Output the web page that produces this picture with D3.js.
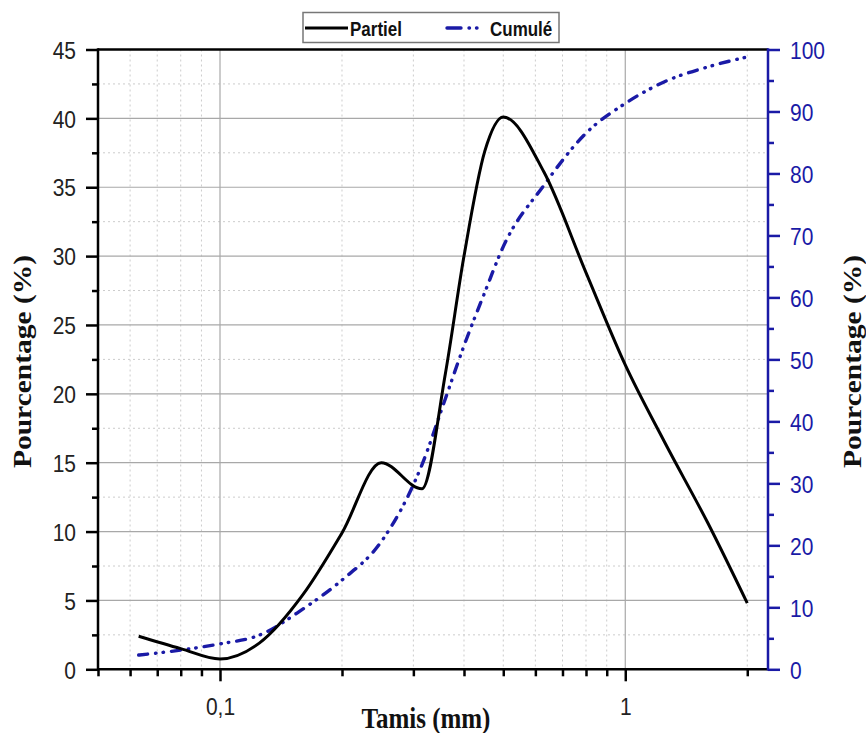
<!DOCTYPE html>
<html>
<head>
<meta charset="utf-8">
<script src="https://cdn.jsdelivr.net/npm/d3@7"></script>
<style>
  body { margin: 0; background: #fff; }
  svg { display: block; }
</style>
</head>
<body>
<svg id="chart"></svg>
<script>
// sieve sizes (mm), plus two points read on the steep rise, and the two series
const tamis = [0.063, 0.08, 0.1, 0.125, 0.16, 0.2, 0.25, 0.315, 0.36, 0.4, 0.45, 0.5, 0.63, 0.8, 1, 1.25, 1.6, 2];
const partiel = [2.4, 1.5, 0.75, 1.9, 5.4, 9.9, 15.0, 13.1, 21.5, 30.0, 37.6, 40.1, 36.1, 28.8, 22.1, 16.5, 10.6, 4.8];
const cumule = [2.3, 3.1, 4.1, 5.5, 9.7, 14.4, 20.6, 33.0, 43.7, 52.2, 60.8, 68.2, 78.1, 86.5, 91.3, 94.8, 97.2, 98.8];

const leftTicks = [0, 5, 10, 15, 20, 25, 30, 35, 40, 45];
const leftMinor = [2.5, 7.5, 12.5, 17.5, 22.5, 27.5, 32.5, 37.5, 42.5];
const rightTicks = [0, 10, 20, 30, 40, 50, 60, 70, 80, 90, 100];
const rightMinor = [5, 15, 25, 35, 45, 55, 65, 75, 85, 95];
const xMajor = [0.1, 1];
const xLabels = ["0,1", "1"];
const xMinor = [0.05, 0.06, 0.07, 0.08, 0.09, 0.2, 0.3, 0.4, 0.5, 0.6, 0.7, 0.8, 0.9, 2];

const width = 866;
const height = 733;
const plotLeft = 98, plotRight = 768, plotTop = 49.5, plotBottom = 669.3;
const blue = "#1a1aa6";
const sy = 1.15; // the reference text is a bit taller than wide

const svg = d3.select("#chart").attr("width", width).attr("height", height);

const xScale = d3.scaleLog().domain([0.05, 2.25]).range([plotLeft, plotRight]);
const yLeft = d3.scaleLinear().domain([0, 45]).range([plotBottom, plotTop]);
const yRight = d3.scaleLinear().domain([0, 100]).range([plotBottom, plotTop]);

// grid
const grid = svg.append("g");
grid.selectAll(".gx-minor")
  .data(xMinor.filter((d) => d > 0.05))
  .enter().append("line")
  .attr("x1", (d) => xScale(d)).attr("x2", (d) => xScale(d))
  .attr("y1", plotTop).attr("y2", plotBottom)
  .attr("stroke", "#cccccc").attr("stroke-dasharray", "2,3");
grid.selectAll(".gy-minor")
  .data(leftMinor)
  .enter().append("line")
  .attr("x1", plotLeft).attr("x2", plotRight)
  .attr("y1", (d) => yLeft(d)).attr("y2", (d) => yLeft(d))
  .attr("stroke", "#cccccc").attr("stroke-dasharray", "2,3");
grid.selectAll(".gx-major")
  .data(xMajor)
  .enter().append("line")
  .attr("x1", (d) => xScale(d)).attr("x2", (d) => xScale(d))
  .attr("y1", plotTop).attr("y2", plotBottom)
  .attr("stroke", "#a8a8a8").attr("stroke-width", 1.2);
grid.selectAll(".gy-major")
  .data(leftTicks.slice(1, -1))
  .enter().append("line")
  .attr("x1", plotLeft).attr("x2", plotRight)
  .attr("y1", (d) => yLeft(d)).attr("y2", (d) => yLeft(d))
  .attr("stroke", "#a8a8a8").attr("stroke-width", 1.2);

// curves
const linePartiel = d3.line()
  .x((d, i) => xScale(tamis[i]))
  .y((d) => yLeft(d))
  .curve(d3.curveMonotoneX);
const lineCumule = d3.line()
  .x((d, i) => xScale(tamis[i]))
  .y((d) => yRight(d))
  .curve(d3.curveMonotoneX);

svg.append("path")
  .attr("d", lineCumule(cumule))
  .attr("fill", "none")
  .attr("stroke", blue)
  .attr("stroke-width", 3.4)
  .attr("stroke-linecap", "round")
  .attr("stroke-dasharray", "9,8,0.5,7,0.5,8");

svg.append("path")
  .attr("d", linePartiel(partiel))
  .attr("fill", "none")
  .attr("stroke", "#000")
  .attr("stroke-width", 3);

// axes
const fontTick = "'Liberation Sans', Arial, sans-serif";

const gLeft = svg.append("g").attr("transform", `translate(${plotLeft},0)`);
gLeft.call(d3.axisLeft(yLeft).tickValues(leftTicks).tickSize(12).tickSizeOuter(0).tickFormat(d3.format("d")));
gLeft.append("g").call(d3.axisLeft(yLeft).tickValues(leftMinor).tickSize(6).tickSizeOuter(0).tickFormat(""));
gLeft.selectAll("text")
  .attr("x", null)
  .attr("dy", "0.36em")
  .attr("transform", `translate(-22,0) scale(1,${sy})`)
  .attr("fill", "#222");

const gBottom = svg.append("g").attr("transform", `translate(0,${plotBottom})`);
gBottom.call(d3.axisBottom(xScale).tickValues(xMajor).tickSize(12).tickSizeOuter(0).tickFormat((d, i) => xLabels[i]));
gBottom.append("g").call(d3.axisBottom(xScale).tickValues(xMinor).tickSize(7).tickSizeOuter(0).tickFormat(""));
gBottom.selectAll("text")
  .attr("y", null)
  .attr("dy", null)
  .attr("transform", `translate(0,46) scale(1,${sy})`)
  .attr("fill", "#222");

const gRight = svg.append("g").attr("transform", `translate(${plotRight},0)`);
gRight.call(d3.axisRight(yRight).tickValues(rightTicks).tickSize(12).tickSizeOuter(0).tickFormat(d3.format("d")));
gRight.append("g").call(d3.axisRight(yRight).tickValues(rightMinor).tickSize(6).tickSizeOuter(0).tickFormat(""));
gRight.selectAll("text")
  .attr("x", null)
  .attr("dy", "0.36em")
  .attr("transform", `translate(22,0) scale(1,${sy})`)
  .attr("fill", blue);

[gLeft, gBottom, gRight].forEach((g) => {
  g.attr("font-size", 21).attr("font-family", fontTick);
  g.selectAll(".domain").remove();
  g.selectAll(".tick line").attr("stroke-width", 2.5);
});
gRight.selectAll(".tick line").attr("stroke", blue);

// frame
svg.append("line").attr("x1", plotLeft).attr("x2", plotRight).attr("y1", plotTop).attr("y2", plotTop)
  .attr("stroke", "#000").attr("stroke-width", 2.5);
svg.append("line").attr("x1", plotLeft).attr("x2", plotRight).attr("y1", plotBottom).attr("y2", plotBottom)
  .attr("stroke", "#000").attr("stroke-width", 2.5);
svg.append("line").attr("x1", plotLeft).attr("x2", plotLeft).attr("y1", plotTop - 1.2).attr("y2", plotBottom + 1.2)
  .attr("stroke", "#000").attr("stroke-width", 2.5);
svg.append("line").attr("x1", plotRight).attr("x2", plotRight).attr("y1", plotTop - 1.2).attr("y2", plotBottom + 1.2)
  .attr("stroke", blue).attr("stroke-width", 2.5);

// axis titles
const fontTitle = "'Liberation Serif', 'Times New Roman', serif";
svg.append("text")
  .attr("transform", `translate(30.5,361.5) rotate(-90) scale(${sy + 0.03},1)`)
  .attr("text-anchor", "middle")
  .attr("font-family", fontTitle).attr("font-weight", "bold").attr("font-size", 25)
  .attr("fill", "#111")
  .text("Pourcentage (%)");
svg.append("text")
  .attr("transform", `translate(860.5,361.5) rotate(-90) scale(${sy + 0.03},1)`)
  .attr("text-anchor", "middle")
  .attr("font-family", fontTitle).attr("font-weight", "bold").attr("font-size", 25)
  .attr("fill", "#111")
  .text("Pourcentage (%)");
svg.append("text")
  .attr("transform", `translate(426,728) scale(1,${sy + 0.03})`)
  .attr("text-anchor", "middle")
  .attr("font-family", fontTitle).attr("font-weight", "bold").attr("font-size", 25)
  .attr("fill", "#111")
  .text("Tamis (mm)");

// legend
const legend = svg.append("g");
legend.append("rect")
  .attr("x", 303).attr("y", 12.5).attr("width", 256).attr("height", 30)
  .attr("fill", "#fff").attr("stroke", "#777").attr("stroke-width", 1.5);
legend.append("line")
  .attr("x1", 305).attr("x2", 348).attr("y1", 28).attr("y2", 28)
  .attr("stroke", "#000").attr("stroke-width", 3);
legend.append("line")
  .attr("x1", 447).attr("x2", 485).attr("y1", 28).attr("y2", 28)
  .attr("stroke", blue).attr("stroke-width", 3.4).attr("stroke-linecap", "round")
  .attr("stroke-dasharray", "14,8,0.5,7,0.5,8");
legend.append("text")
  .attr("transform", `translate(350,35.5) scale(1,${sy})`)
  .attr("font-family", fontTick).attr("font-weight", "bold").attr("font-size", 17)
  .attr("fill", "#111")
  .text("Partiel");
legend.append("text")
  .attr("transform", `translate(490,35.5) scale(1,${sy})`)
  .attr("font-family", fontTick).attr("font-weight", "bold").attr("font-size", 17)
  .attr("fill", "#111")
  .text("Cumulé");
</script>
</body>
</html>
